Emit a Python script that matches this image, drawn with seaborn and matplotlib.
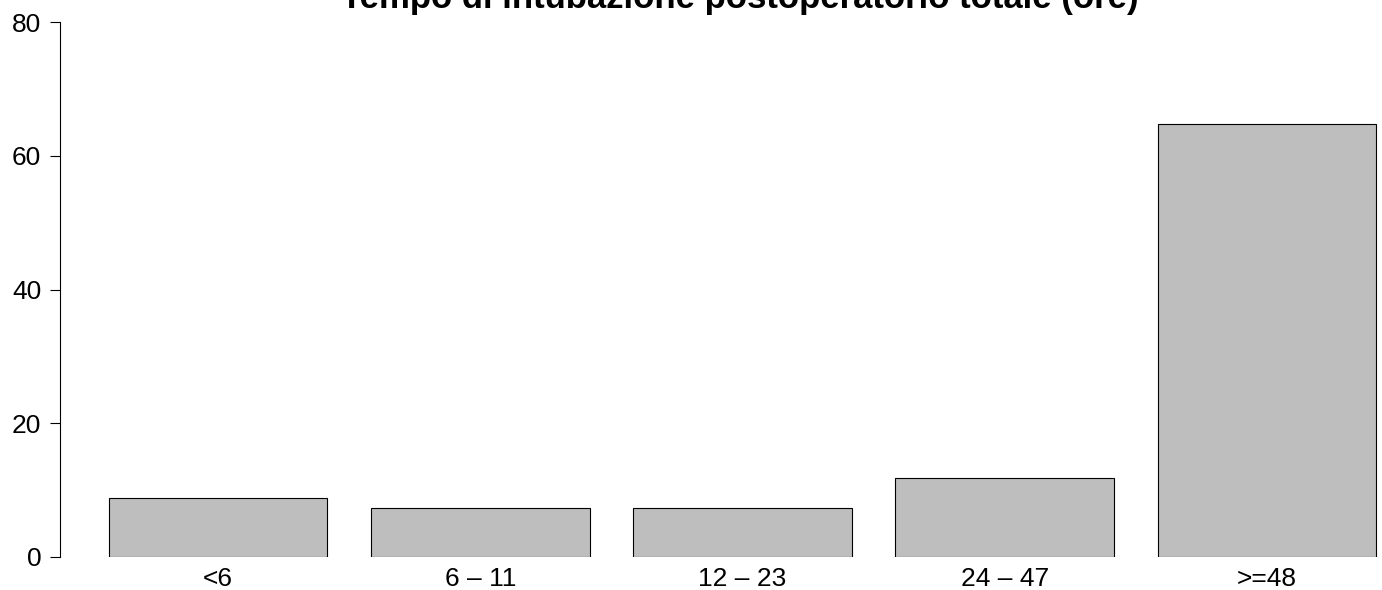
import matplotlib
matplotlib.use("Agg")
import matplotlib.pyplot as plt
import seaborn as sns
import pandas as pd

categories = ["<6", "6 – 11", "12 – 23", "24 – 47", ">=48"]
values = [8.82, 7.35, 7.35, 11.76, 64.71]
yticks = [0, 20, 40, 60, 80]
title = "Tempo di intubazione postoperatorio totale (ore)"

sns.set_theme(style="white")
plt.rcParams["font.family"] = ["Liberation Sans", "DejaVu Sans"]

W, H = 1382, 590
fig = plt.figure(figsize=(W / 100, H / 100), dpi=100)
ax = fig.add_axes([60 / W, 1 - 557 / H, (W - 60) / W, (557 - 22) / H])

df = pd.DataFrame({"cat": categories, "val": values})
sns.barplot(data=df, x="cat", y="val", order=categories, color="#BEBEBE",
            saturation=1, width=0.8333, edgecolor="black", linewidth=0.8, ax=ax)

ax.set_xlim(-0.6037, 4.4396)
ax.set_ylim(0, 80)
ax.set_yticks(yticks)
ax.set_yticklabels([str(t) for t in yticks])
ax.set_xlabel("")
ax.set_ylabel("")
for s in ["top", "right", "bottom"]:
    ax.spines[s].set_visible(False)
ax.spines["left"].set_color("black")
ax.spines["left"].set_linewidth(0.8)
ax.tick_params(axis="y", left=True, length=7.5, width=0.8, color="black",
               labelsize=19, pad=6, labelcolor="black")
ax.tick_params(axis="x", bottom=False, length=0, labelsize=19, pad=7.5,
               labelcolor="black")

fig.text(740 / W, 1 - 8 / H, title, ha="center", va="baseline",
         fontsize=25, fontweight="bold", color="black")

fig.savefig("out.png", dpi=100)
